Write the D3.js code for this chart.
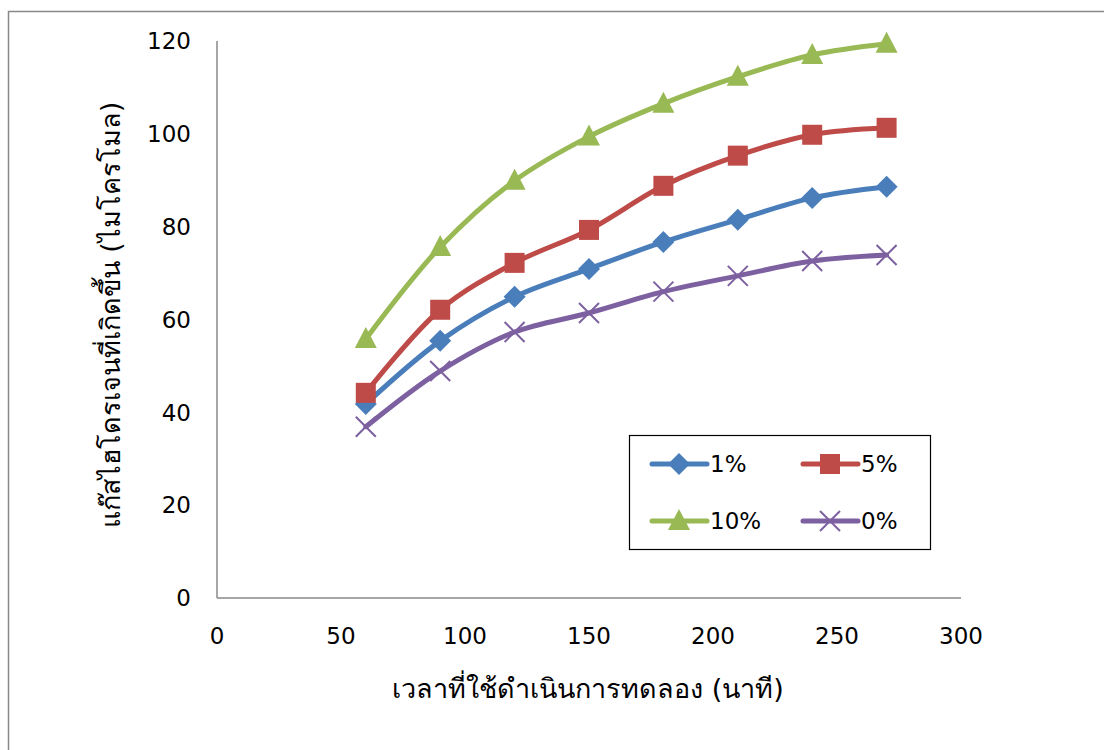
<!DOCTYPE html>
<html><head><meta charset="utf-8">
<script src="https://cdn.jsdelivr.net/npm/d3@7"></script>
<style>body{margin:0;background:#fff}svg{display:block}text{font-family:Tahoma,"DejaVu Sans","Noto Sans",sans-serif}</style>
</head><body><svg id="c" width="1104" height="750"></svg>
<script>
const times = [60, 90, 120, 150, 180, 210, 240, 270];
const s1 = [41.8, 55.4, 64.9, 70.9, 76.7, 81.5, 86.2, 88.6];
const s5 = [44.2, 62.1, 72.2, 79.3, 88.8, 95.3, 99.8, 101.3];
const s10 = [55.8, 75.6, 89.9, 99.4, 106.5, 112.3, 117.0, 119.4];
const s0 = [36.9, 48.9, 57.3, 61.4, 66.0, 69.4, 72.6, 73.9];
const seriesNames = ["1%", "5%", "10%", "0%"];
const seriesColors = ["#4A7EBB", "#BE4B48", "#98B954", "#7D60A0"];
const seriesMarkers = ["diamond", "square", "triangle", "cross"];
const xTicks = [0, 50, 100, 150, 200, 250, 300];
const yTicks = [0, 20, 40, 60, 80, 100, 120];
const xTitle = "เวลาที่ใช้ดำเนินการทดลอง (นาที)";
const yTitle = "แก๊สไฮโดรเจนที่เกิดขึ้น (ไมโครโมล)";

const svg = d3.select("#c");
svg.append("rect").attr("x",8.5).attr("y",11.5).attr("width",1110).attr("height",760)
  .attr("fill","none").attr("stroke","#888").attr("stroke-width",1.5);

const x = d3.scaleLinear().domain([0,300]).range([217,961]);
const y = d3.scaleLinear().domain([0,120]).range([598,41]);

svg.append("line").attr("x1",x(0)).attr("x2",x(0)).attr("y1",y(120)).attr("y2",y(0)).attr("stroke","#888").attr("stroke-width",1.5);
svg.append("line").attr("x1",x(0)).attr("x2",x(300)).attr("y1",y(0)).attr("y2",y(0)).attr("stroke","#888").attr("stroke-width",1.5);

svg.selectAll(".yt").data(yTicks).enter().append("text")
  .attr("x",191).attr("y",d=>y(d)).attr("dy","0.36em").attr("text-anchor","end")
  .attr("font-size",23).attr("fill","#000").text(d=>d);
svg.selectAll(".xt").data(xTicks).enter().append("text")
  .attr("x",d=>x(d)).attr("y",636).attr("dy","0.36em").attr("text-anchor","middle")
  .attr("font-size",23).attr("fill","#000").text(d=>d);

svg.append("text").attr("x",588).attr("y",688).attr("dy","0.36em").attr("text-anchor","middle")
  .attr("font-size",27).text(xTitle);
svg.append("text").attr("transform","translate(110,315) rotate(-90)").attr("dy","0.36em").attr("text-anchor","middle")
  .attr("font-size",27).text(yTitle);

const data = [s1,s5,s10,s0];
const line = d3.line().x((d,i)=>x(times[i])).y(d=>y(d)).curve(d3.curveCatmullRom.alpha(0.5));

function marker(g, type, color, cx, cy){
  if(type==="diamond"){
    g.append("path").attr("d",`M${cx},${cy-11}L${cx+11},${cy}L${cx},${cy+11}L${cx-11},${cy}Z`).attr("fill",color);
  } else if(type==="square"){
    g.append("rect").attr("x",cx-10).attr("y",cy-10).attr("width",20).attr("height",20).attr("fill",color);
  } else if(type==="triangle"){
    g.append("path").attr("d",`M${cx},${cy-12}L${cx+11},${cy+9}L${cx-11},${cy+9}Z`).attr("fill",color);
  } else {
    g.append("path").attr("d",`M${cx-10},${cy-10}L${cx+10},${cy+10}M${cx-10},${cy+10}L${cx+10},${cy-10}`).attr("stroke",color).attr("stroke-width",2);
  }
}

data.forEach((vals,k)=>{
  svg.append("path").datum(vals).attr("d",line).attr("fill","none")
    .attr("stroke",seriesColors[k]).attr("stroke-width",5).attr("stroke-linecap","round");
  const g = svg.append("g");
  vals.forEach((v,i)=>marker(g, seriesMarkers[k], seriesColors[k], x(times[i]), y(v)));
});

// legend
svg.append("rect").attr("x",629.5).attr("y",435.5).attr("width",301).attr("height",114)
  .attr("fill","#fff").attr("stroke","#000").attr("stroke-width",1.2);
const legPos = [[652,464],[803,464],[652,521],[803,521]];
seriesNames.forEach((n,k)=>{
  const [lx,ly] = legPos[k];
  svg.append("line").attr("x1",lx).attr("x2",lx+55).attr("y1",ly).attr("y2",ly)
    .attr("stroke",seriesColors[k]).attr("stroke-width",5).attr("stroke-linecap","round");
  marker(svg, seriesMarkers[k], seriesColors[k], lx+27, ly);
  svg.append("text").attr("x",lx+58).attr("y",ly).attr("dy","0.36em").attr("font-size",23).text(n);
});
</script></body></html>
